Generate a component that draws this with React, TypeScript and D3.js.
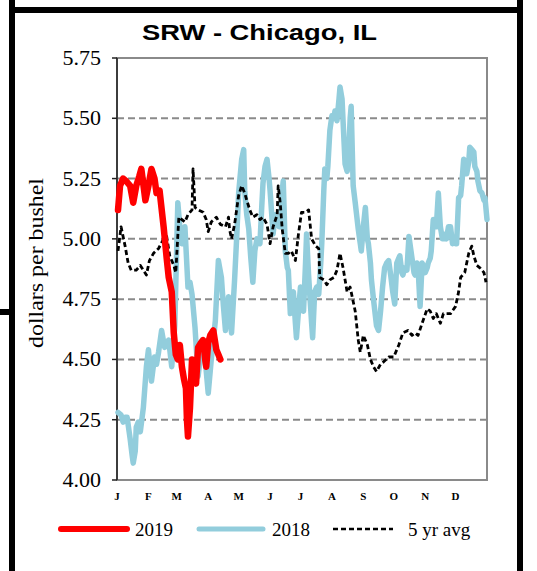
import React from "react";
import * as d3 from "d3";

const monthLabels = ["J", "F", "M", "A", "M", "J", "J", "A", "S", "O", "N", "D"];
const monthStartDays = [0, 31, 59, 90, 120, 151, 181, 212, 243, 273, 304, 334];
const yTicks = [4.0, 4.25, 4.5, 4.75, 5.0, 5.25, 5.5, 5.75];

const days2019 = [1, 3, 6, 9, 13, 16, 19, 22, 24, 28, 31, 34, 37, 39, 42, 46, 49, 51, 54, 56, 58, 60, 62, 64, 66, 68, 69, 70, 72, 74, 76, 78, 80, 83, 85, 87, 88, 90, 92, 95, 98, 100, 102];
const vals2019 = [5.12, 5.22, 5.25, 5.24, 5.22, 5.15, 5.22, 5.26, 5.29, 5.16, 5.22, 5.29, 5.25, 5.19, 5.2, 5.05, 4.92, 4.84, 4.78, 4.61, 4.52, 4.5, 4.56, 4.47, 4.42, 4.38, 4.25, 4.18, 4.3, 4.5, 4.42, 4.4, 4.55, 4.57, 4.58, 4.5, 4.47, 4.57, 4.6, 4.62, 4.54, 4.52, 4.5];

const days2018 = [1, 4, 6, 8, 10, 12, 13, 15, 16, 18, 19, 21, 23, 26, 29, 31, 34, 37, 39, 41, 44, 47, 49, 51, 54, 57, 60, 62, 64, 67, 70, 72, 74, 77, 80, 82, 84, 87, 90, 93, 95, 97, 100, 103, 105, 107, 110, 113, 116, 118, 120, 123, 125, 126, 128, 130, 132, 134, 136, 138, 141, 143, 144, 146, 148, 150, 151, 153, 154, 156, 158, 160, 161, 163, 164, 165, 166, 168, 169, 171, 172, 174, 176, 177, 179, 181, 183, 184, 186, 187, 189, 190, 192, 193, 195, 197, 199, 201, 202, 204, 205, 207, 208, 210, 212, 214, 215, 217, 219, 220, 222, 224, 225, 227, 228, 230, 231, 233, 235, 238, 240, 241, 243, 245, 247, 248, 250, 251, 253, 256, 258, 260, 262, 264, 266, 268, 270, 272, 274, 276, 278, 279, 281, 282, 284, 286, 288, 290, 291, 293, 294, 296, 297, 299, 301, 303, 304, 306, 307, 309, 310, 312, 314, 315, 317, 319, 321, 322, 324, 325, 327, 329, 331, 332, 334, 335, 337, 339, 340, 342, 344, 345, 347, 348, 350, 352, 353, 355, 356, 358, 360, 362, 363, 365];
const vals2018 = [4.28, 4.27, 4.24, 4.26, 4.26, 4.2, 4.17, 4.1, 4.07, 4.12, 4.22, 4.24, 4.2, 4.3, 4.47, 4.54, 4.41, 4.51, 4.48, 4.53, 4.62, 4.55, 4.57, 4.58, 4.47, 4.64, 5.15, 5.05, 4.98, 5.05, 4.8, 4.82, 4.77, 4.63, 4.43, 4.5, 4.58, 4.5, 4.36, 4.5, 4.58, 4.66, 4.91, 4.84, 4.72, 4.62, 4.76, 4.61, 4.83, 5.0, 5.19, 5.33, 5.37, 5.2, 5.1, 5.04, 4.92, 4.82, 4.95, 5.0, 4.98, 5.15, 5.23, 5.3, 5.33, 5.25, 5.2, 5.08, 5.02, 5.1, 5.08, 5.05, 5.05, 5.2, 5.24, 5.1, 4.95, 4.88, 4.87, 4.69, 4.75, 4.78, 4.65, 4.59, 4.7, 4.8, 4.75, 4.7, 4.9, 5.02, 4.85, 4.78, 4.65, 4.59, 4.78, 4.8, 4.77, 4.9, 4.98, 5.2, 5.29, 5.25, 5.3, 5.45, 5.51, 5.5, 5.53, 5.49, 5.58, 5.63, 5.58, 5.4, 5.31, 5.28, 5.3, 5.5, 5.55, 5.22, 5.15, 5.04, 4.98, 4.95, 5.05, 5.13, 5.0, 4.98, 4.9, 4.83, 4.75, 4.64, 4.62, 4.7, 4.8, 4.88, 4.9, 4.91, 4.85, 4.78, 4.73, 4.9, 4.92, 4.93, 4.86, 4.85, 4.88, 4.87, 5.01, 4.95, 4.92, 4.86, 4.85, 4.9, 4.88, 4.72, 4.9, 4.88, 4.86, 4.88, 4.9, 4.92, 4.95, 5.08, 5.05, 5.05, 5.19, 5.05, 5.0, 5.0, 5.02, 5.0, 5.05, 5.05, 4.98, 5.0, 4.98, 4.98, 5.17, 5.18, 5.22, 5.33, 5.3, 5.27, 5.32, 5.38, 5.37, 5.36, 5.3, 5.28, 5.24, 5.2, 5.19, 5.16, 5.17, 5.08];

const daysAvg = [1, 4, 8, 11, 14, 19, 23, 26, 29, 32, 36, 41, 46, 49, 52, 56, 58, 61, 64, 67, 70, 74, 75, 77, 80, 85, 88, 90, 93, 98, 102, 107, 110, 111, 113, 116, 120, 123, 126, 128, 131, 134, 138, 141, 144, 148, 151, 154, 158, 159, 161, 163, 166, 169, 172, 176, 179, 182, 186, 189, 192, 196, 199, 200, 204, 207, 210, 214, 217, 220, 223, 227, 230, 235, 238, 240, 243, 247, 250, 253, 256, 260, 263, 268, 273, 278, 282, 287, 291, 294, 297, 301, 306, 309, 312, 315, 319, 322, 329, 334, 337, 339, 343, 347, 350, 352, 355, 358, 362, 364];
const valsAvg = [4.95, 5.05, 4.97, 4.9, 4.87, 4.87, 4.89, 4.87, 4.85, 4.91, 4.94, 4.96, 5.0, 5.01, 4.93, 4.89, 4.86, 5.09, 5.08, 5.07, 5.1, 5.12, 5.29, 5.13, 5.12, 5.11, 5.08, 5.03, 5.07, 5.09, 5.06, 5.05, 5.09, 5.04, 5.0, 5.06, 5.18, 5.22, 5.19, 5.16, 5.12, 5.09, 5.1, 5.08, 5.09, 5.06, 4.98, 5.05, 5.1, 5.22, 5.15, 5.04, 4.94, 4.94, 4.95, 4.91, 5.02, 5.11, 5.11, 5.12, 5.0, 4.97, 4.96, 4.84, 4.83, 4.81, 4.83, 4.84, 4.87, 4.94, 4.88, 4.78, 4.8, 4.7, 4.58, 4.53, 4.6, 4.56, 4.5, 4.47, 4.45, 4.48, 4.49, 4.51, 4.51, 4.56, 4.61, 4.62, 4.6, 4.61, 4.6, 4.65, 4.71, 4.7, 4.67, 4.69, 4.65, 4.69, 4.69, 4.72, 4.78, 4.84, 4.86, 4.94, 4.97, 4.93, 4.89, 4.88, 4.86, 4.82];

const W = 537;
const H = 571;
const left = 117;
const right = 487;
const top = 58;
const bottom = 480;

export default function App() {
  const x = d3.scaleLinear().domain([0, 365]).range([left, right]);
  const y = d3.scaleLinear().domain([4.0, 5.75]).range([bottom, top]);
  const line = d3
    .line<[number, number]>()
    .x((d) => x(d[0]))
    .y((d) => y(d[1]));
  const toPts = (ds: number[], vs: number[]) => ds.map((d, i) => [d, vs[i]] as [number, number]);

  const serif = "'Liberation Serif', 'Times New Roman', serif";
  const sans = "'Liberation Sans', Arial, sans-serif";

  return (
    <svg
      width={W}
      height={H}
      style={{ position: "absolute", left: 0, top: 0, background: "#fff" }}
    >
      <rect x={0} y={0} width={W} height={H} fill="#fff" />
      <rect x={9} y={0} width={6} height={H} fill="#000" />
      <rect x={517} y={0} width={6} height={H} fill="#000" />
      <rect x={15} y={7} width={502} height={6} fill="#000" />
      <rect x={0} y={309} width={10} height={6} fill="#000" />

      <text
        x={142}
        y={40}
        fontFamily={sans}
        fontWeight="bold"
        fontSize={22}
        textLength={235}
        lengthAdjust="spacingAndGlyphs"
        fill="#000"
      >
        SRW - Chicago, IL
      </text>

      {yTicks
        .filter((t) => t > 4.0 && t < 5.75)
        .map((t) => (
          <line
            key={"g" + t}
            x1={left}
            x2={right}
            y1={y(t)}
            y2={y(t)}
            stroke="#8a8a8a"
            strokeWidth={2}
            strokeDasharray="7,4"
          />
        ))}

      <rect
        x={left}
        y={top}
        width={right - left}
        height={bottom - top}
        fill="none"
        stroke="#8a8a8a"
        strokeWidth={2}
      />
      <line x1={left} x2={left} y1={top} y2={bottom} stroke="#222" strokeWidth={1.5} />
      {yTicks.map((t) => (
        <g key={"t" + t}>
          <line x1={left - 5} x2={left} y1={y(t)} y2={y(t)} stroke="#222" strokeWidth={1.5} />
          <text
            x={101}
            y={y(t) + 7}
            textAnchor="end"
            fontFamily={serif}
            fontSize={22}
            fill="#000"
          >
            {t.toFixed(2)}
          </text>
        </g>
      ))}

      {monthLabels.map((m, i) => (
        <text
          key={"m" + i}
          x={x(monthStartDays[i])}
          y={500}
          textAnchor="middle"
          fontFamily={serif}
          fontWeight="bold"
          fontSize={11}
          fill="#000"
        >
          {m}
        </text>
      ))}

      <text
        transform={`translate(43,263) rotate(-90)`}
        textAnchor="middle"
        fontFamily={serif}
        fontSize={20}
        textLength={170}
        lengthAdjust="spacingAndGlyphs"
        fill="#000"
      >
        dollars per bushel
      </text>

      <path
        d={line(toPts(days2018, vals2018)) || ""}
        fill="none"
        stroke="#92cddc"
        strokeWidth={5.5}
        strokeLinejoin="round"
        strokeLinecap="round"
      />
      <path
        d={line(toPts(daysAvg, valsAvg)) || ""}
        fill="none"
        stroke="#000"
        strokeWidth={2.8}
        strokeDasharray="5,3"
        strokeLinejoin="round"
      />
      <path
        d={line(toPts(days2019, vals2019)) || ""}
        fill="none"
        stroke="#ff0000"
        strokeWidth={6.5}
        strokeLinejoin="round"
        strokeLinecap="round"
      />

      <line x1={61} x2={127} y1={529} y2={529} stroke="#ff0000" strokeWidth={6} strokeLinecap="round" />
      <text x={135} y={536} fontFamily={serif} fontSize={19} fill="#000">2019</text>
      <line x1={199} x2={263} y1={529} y2={529} stroke="#92cddc" strokeWidth={5} strokeLinecap="round" />
      <text x={272} y={536} fontFamily={serif} fontSize={19} fill="#000">2018</text>
      <line x1={333} x2={393} y1={529} y2={529} stroke="#000" strokeWidth={2.5} strokeDasharray="5,3" />
      <text x={408} y={536} fontFamily={serif} fontSize={19} fill="#000">5 yr avg</text>
    </svg>
  );
}
